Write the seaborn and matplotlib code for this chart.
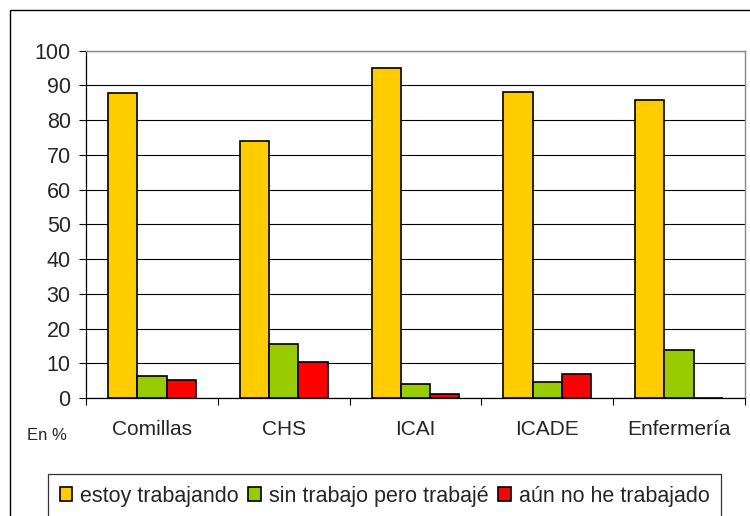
import seaborn as sns
import pandas as pd
import numpy as np
import matplotlib.pyplot as plt
from matplotlib.patches import Rectangle

carreras = ['Comillas', 'CHS', 'ICAI', 'ICADE', 'Enfermería']
situaciones = ['estoy trabajando', 'sin trabajo pero trabajé', 'aún no he trabajado']
trabajando = [87.7, 73.9, 95.1, 88.2, 85.9]
sin_trabajo = [6.2, 15.5, 4.0, 4.6, 13.7]
nunca = [5.3, 10.3, 1.2, 6.9, 0.0]
colores = ['#FFCC00', '#99CC00', '#FF0000']
y_ticks = list(range(0, 101, 10))

df = pd.DataFrame({
    'carrera': carreras * 3,
    'situacion': np.repeat(situaciones, len(carreras)),
    'pct': trabajando + sin_trabajo + nunca,
})

sns.set_style('white')
plt.rcParams['font.family'] = ['Liberation Sans', 'DejaVu Sans']

fig = plt.figure(figsize=(7.5, 5.16), dpi=100)
ax = fig.add_axes([86 / 750, 1 - 398 / 516, (745 - 86) / 750, (398 - 50.7) / 516])

sns.barplot(data=df, x='carrera', y='pct', hue='situacion', order=carreras,
            hue_order=situaciones, palette=colores, saturation=1, width=0.667,
            gap=0, edgecolor='black', linewidth=1.2, ax=ax)

ax.set_ylim(0, 100)
ax.set_xlim(-0.5, len(carreras) - 0.5)
ax.set_yticks(y_ticks)
ax.yaxis.grid(True, color='black', linewidth=0.8)
ax.set_axisbelow(True)
ax.set_xlabel('')
ax.set_ylabel('')

ax.set_xticks(np.arange(-0.5, len(carreras)), minor=True)
ax.tick_params(axis='x', which='major', length=0, pad=16, labelsize=15)
ax.tick_params(axis='x', which='minor', length=5, width=0.8, color='black', direction='out', bottom=True)
ax.tick_params(axis='y', length=5, width=0.8, color='black', direction='out', left=True, pad=6, labelsize=15.5)

for side in ['left', 'bottom']:
    ax.spines[side].set_color('black')
    ax.spines[side].set_linewidth(0.9)
for side in ['top', 'right']:
    ax.spines[side].set_color('#888888')
    ax.spines[side].set_linewidth(1.0)

fig.text(47 / 750, 1 - 435 / 516, 'En %', fontsize=12, ha='center', va='center')

handles, labels = ax.get_legend_handles_labels()
ax.get_legend().remove()
leg = fig.legend(handles, labels, loc='upper left', bbox_to_anchor=(47.7 / 750, 1 - 474 / 516),
                 ncol=3, fontsize=15.5, frameon=True, fancybox=False, edgecolor='black',
                 handlelength=0.6, handleheight=0.6, handletextpad=0.35, columnspacing=0.45,
                 borderpad=0.55, borderaxespad=0)
leg.get_frame().set_linewidth(0.9)

fig.patches.append(Rectangle((10 / 750, -0.1), 1.2, 1.1 - 10 / 516, transform=fig.transFigure,
                             fill=False, edgecolor='black', linewidth=1.0))

fig.savefig('out.png', dpi=100)
